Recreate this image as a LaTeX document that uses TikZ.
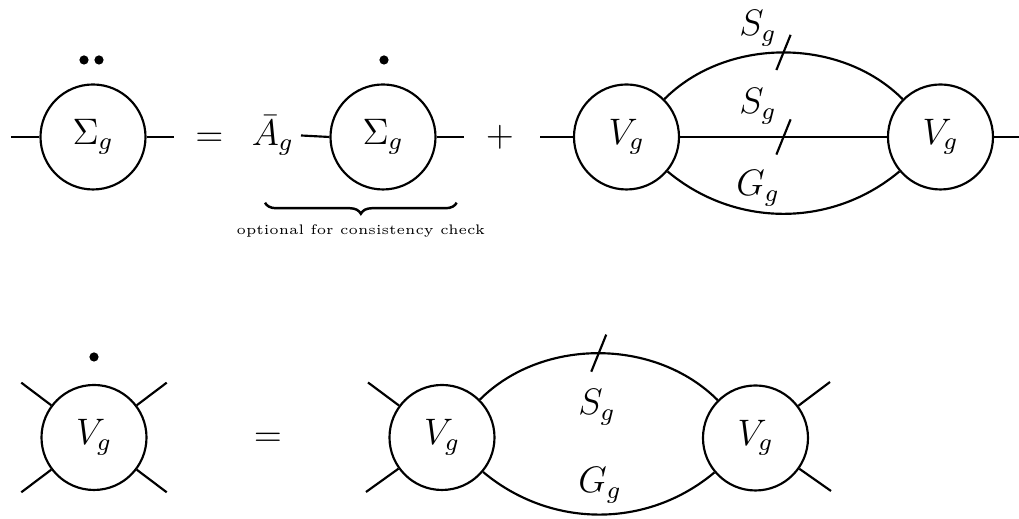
\documentclass[tikz,border=0pt]{standalone}
\usetikzlibrary{decorations.pathreplacing}
\begin{document}
\begin{tikzpicture}[x=0.3255pt,y=0.3255pt,line width=0.7pt,
  font=\fontsize{12}{14}\selectfont,
  blob/.style={draw,circle,minimum size=34.18pt,inner sep=0pt},
  vdot/.style={circle,fill,inner sep=0pt,minimum size=3pt},
  lbl/.style={inner sep=1pt},
  sym/.style={anchor=base,inner sep=0pt}]
\useasboundingbox (0,0) rectangle (1019,519);
% ---------- top row ----------
\node[blob] (c1) at (93,382) {$\Sigma_g$};
\coordinate (c1l) at (11,382);
\coordinate (c1r) at (174,382);
\draw (c1l) -- (c1.west);
\draw (c1.east) -- (c1r);
\node[vdot] (d1) at (84,459) {};
\node[vdot] (d2) at (99,459) {};
\node[sym] (eq1) at (209.5,372.8) {$=$};
\node[anchor=east,inner sep=2pt] (abar) at (301,383.5) {$\bar{A}_g$};
\node[blob] (c2) at (383,382) {$\Sigma_g$};
\coordinate (c2r) at (464,382);
\draw (abar.east) -- (c2.west);
\draw (c2.east) -- (c2r);
\node[vdot] (d3) at (384,459) {};
\coordinate (br1) at (265,316.3);
\coordinate (br2) at (456.7,316.3);
\draw[decorate,decoration={brace,mirror,amplitude=3.6pt},line width=0.8pt] (br1) -- (br2);
\node[anchor=base,inner sep=0pt,font=\fontsize{4.5}{5}\selectfont] (opt) at (360.8,284) {optional for consistency check};
\node[sym] (plus) at (500,372.8) {$+$};
\node[blob] (vl) at (626.5,382) {$V_g$};
\node[blob] (vr) at (940.5,382) {$V_g$};
\coordinate (vll) at (540,382);
\coordinate (vrr) at (1019,382);
\draw (vll) -- (vl.west);
\draw (vr.east) -- (vrr);
\draw (vl.45) .. controls +(45:88) and +(135:88) .. coordinate[pos=0.5] (m1) (vr.135);
\draw (vl.east) -- coordinate[pos=0.5] (m2) (vr.west);
\draw (vl.-40) .. controls +(-40:88) and +(-140:88) .. (vr.-140);
\draw ([shift={(248:19)}]m1) -- ([shift={(68:19)}]m1);
\draw ([shift={(248:19)}]m2) -- ([shift={(68:19)}]m2);
\node[lbl] (s1) at (758,490.5) {$S_g$};
\node[lbl] (s2) at (758,412.5) {$S_g$};
\node[lbl] (g1) at (758,330.5) {$G_g$};
% ---------- bottom row ----------
\node[blob] (b1) at (94,81.5) {$V_g$};
\node[vdot] (d4) at (94,162) {};
\coordinate (b1a) at (21.3,136.3);
\coordinate (b1b) at (166.7,136.3);
\coordinate (b1c) at (21.3,26.7);
\coordinate (b1d) at (166.7,26.7);
\draw (b1) -- (b1a);
\draw (b1) -- (b1b);
\draw (b1) -- (b1c);
\draw (b1) -- (b1d);
\node[sym] (eq2) at (268,72.3) {$=$};
\node[blob] (b2) at (442,81.5) {$V_g$};
\node[blob] (b3) at (755.5,81) {$V_g$};
\coordinate (b2a) at (368,136.5);
\coordinate (b2c) at (366,27);
\coordinate (b3b) at (830,137);
\coordinate (b3d) at (831,28);
\draw (b2) -- (b2a);
\draw (b2) -- (b2c);
\draw (b3) -- (b3b);
\draw (b3) -- (b3d);
\draw (b2.45) .. controls +(45:88) and +(135:88) .. coordinate[pos=0.5] (m3) (b3.135);
\draw (b2.-40) .. controls +(-40:88) and +(-140:88) .. (b3.-140);
\draw ([shift={(248:20)}]m3) -- ([shift={(68:20)}]m3);
\node[lbl] (s3) at (597,111.5) {$S_g$};
\node[lbl] (g2) at (600,33.5) {$G_g$};
\end{tikzpicture}
\end{document}
